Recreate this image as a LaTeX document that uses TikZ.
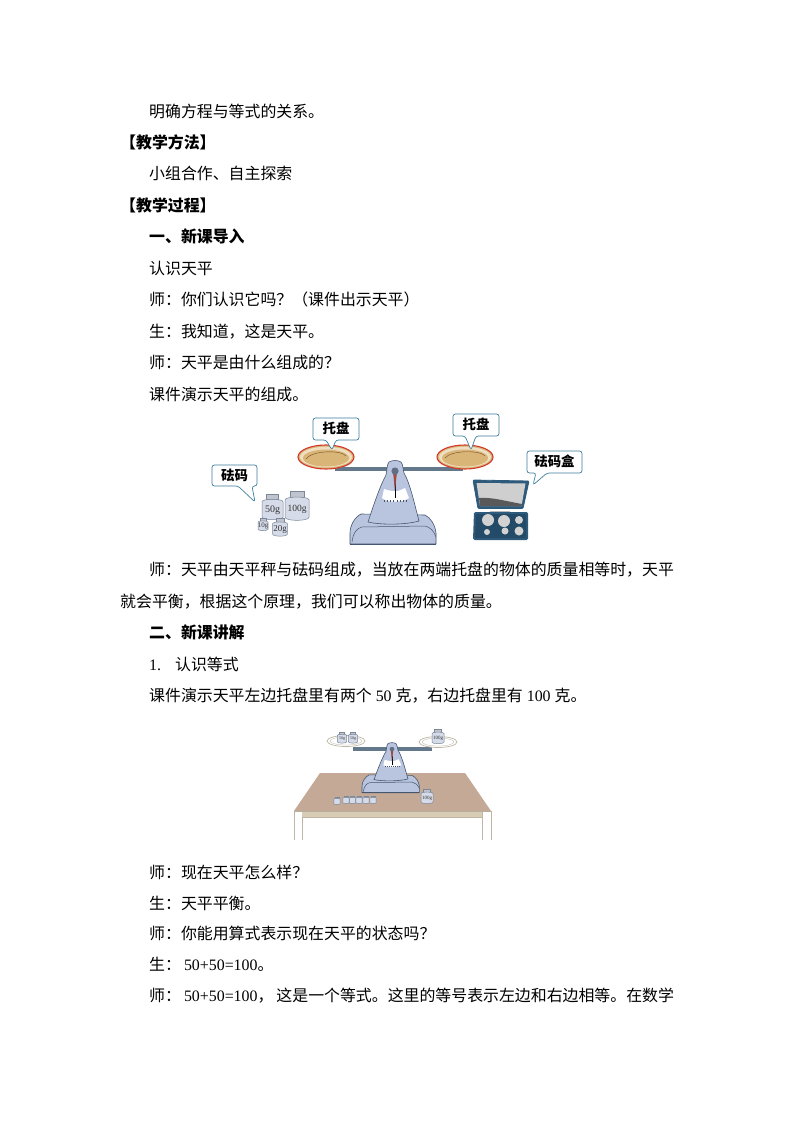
\documentclass[tikz,border=0pt]{standalone}
\usepackage{fontspec}
\setmainfont{Liberation Serif}
\newfontfamily\cjk{Noto Sans CJK SC}
\newcommand{\lat}[1]{{\rmfamily #1}}
\definecolor{bodyblue}{HTML}{B9C5DE}
\definecolor{bodyline}{HTML}{46556E}
\definecolor{beamcol}{HTML}{64788C}
\definecolor{calloutline}{HTML}{3E7F9E}
\definecolor{boxblue}{HTML}{2E5A7C}
\definecolor{boxdark}{HTML}{234A66}
\definecolor{weightfill}{HTML}{D5DBE8}
\definecolor{weightline}{HTML}{7C8798}
\definecolor{tabletop}{HTML}{C4A996}
\definecolor{tableedge}{HTML}{D8CDB4}
\definecolor{plategold}{HTML}{D9B677}
\definecolor{platerim}{HTML}{D2392B}
\definecolor{needle}{HTML}{B0453A}
\tikzset{
  line/.style={anchor=base west,inner sep=0pt,font=\fontsize{15.9pt}{16pt}\cjk},
  head/.style={line,font=\fontsize{15.9pt}{16pt}\cjk\bfseries},
  callout/.style={draw=calloutline,fill=white,line width=.7pt,rounded corners=2.5pt},
  calloutlabel/.style={inner sep=0pt,font=\fontsize{13.4pt}{14pt}\cjk\bfseries},
  wpart/.style={draw=weightline,fill=weightfill,line width=.5pt},
  wdark/.style={draw=weightline,fill=weightfill!75!gray,line width=.5pt},
  sbody/.style={draw=bodyline,fill=bodyblue,line width=.6pt,line join=round},
  plateline/.style={draw=platerim,fill=plategold,line width=1.1pt},
  smallplate/.style={draw=tableedge!70!gray,fill=white,line width=.7pt},
}
% weight: centre x, centre y, half width, label, font size
\newcommand{\wgt}[5]{%
  \begin{scope}[shift={(#1,#2)},x=#3pt,y=-#3pt]
    \draw[wpart] (-.3,-.95) rectangle (.3,-.55);
    \draw[wdark] (-.58,-1.3) rectangle (.58,-.85);
    \draw[wpart] (-1,-.6) -- (-1,.85) .. controls (-1,1.2) and (1,1.2) .. (1,.85) -- (1,-.6)
       .. controls (1,-.9) and (-1,-.9) .. (-1,-.6) -- cycle;
    \node[inner sep=0pt,font=\fontsize{#5pt}{#5pt}\selectfont\rmfamily,text=black!80] at (0,.2) {#4};
  \end{scope}}
% balance body, origin at pivot
\newcommand{\balancebody}[2]{%
  \begin{scope}[shift={(#1)},#2]
    \draw[sbody] (-45,73) -- (-45,62) .. controls (-45,54) and (-40,46) .. (-34,43) -- (30,44)
       .. controls (36,47) and (40,54) .. (41,62) -- (41,73) -- cycle;
    \draw[bodyline,line width=.5pt] (-43,71) .. controls (-42,62) and (-38,57) .. (-33,56) -- (30,55)
       .. controls (35,56) and (39,60) .. (41,66);
    \draw[bodyline,line width=1pt] (-45,73) -- (41,73);
    \draw[sbody] (-27,51) .. controls (-21,33) and (-15,15) .. (-9,4)
       .. controls (-8,-1) and (-8,-7) .. (-6,-9) .. controls (-3,-11) and (3,-11) .. (6,-9)
       .. controls (8,-7) and (8,-1) .. (9,2) .. controls (15,12) and (20,35) .. (24,50)
       .. controls (10,54) and (-14,54) .. (-27,51) -- cycle;
    \fill[white] (-11,18) .. controls (-8,19) and (-5,20) .. (-2,20) -- (3,20)
       .. controls (6,19) and (8,18) .. (10,17) -- (14,27) .. controls (8,31) and (-6,33) .. (-13,27) -- cycle;
    \foreach \t in {-11,-8,-5,-2,2,5,8,11}
      \draw[bodyline,line width=.25pt] (\t,30.5) -- (\t,28.5);
    \draw[black,line width=.4pt] (0,12) -- (0,27);
    \fill[bodyline!50!needle] (-2,0) -- (2,0) -- (0,20) -- cycle;
    \fill[needle] (-1.1,3) -- (1.1,3) -- (0,19) -- cycle;
    \fill[bodyline!85!white] (0,0) circle (3.6);
  \end{scope}}
\begin{document}
\begin{tikzpicture}[x=1pt,y=-1pt]
\useasboundingbox (0,0) rectangle (794,1123);
\fill[white] (0,0) rectangle (794,1123);

% text
\node[line] (t1) at (149,118) {明确方程与等式的关系。};
\node[head] (t2) at (120,149) {【教学方法】};
\node[line] (t3) at (149,180) {小组合作、自主探索};
\node[head] (t4) at (120,212) {【教学过程】};
\node[head] (t5) at (149,243) {一、新课导入};
\node[line] (t6) at (149,274) {认识天平};
\node[line] (t7) at (149,305) {师：你们认识它吗？（课件出示天平）};
\node[line] (t8) at (149,337) {生：我知道，这是天平。};
\node[line] (t9) at (149,368) {师：天平是由什么组成的？};
\node[line] (t10) at (149,400) {课件演示天平的组成。};
\node[line] (t11) at (149,575) {师：天平由天平秤与砝码组成，当放在两端托盘的物体的质量相等时，天平};
\node[line] (t12) at (120,607) {就会平衡，根据这个原理，我们可以称出物体的质量。};
\node[head] (t13) at (149,638) {二、新课讲解};
\node[line] (t14) at (149,670) {\lat{1.\hspace{14pt}}认识等式};
\node[line] (t15) at (149,701) {课件演示天平左边托盘里有两个\lat{ 50 }克，右边托盘里有\lat{ 100 }克。};
\node[line] (t16) at (149,878) {师：现在天平怎么样？};
\node[line] (t17) at (149,909) {生：天平平衡。};
\node[line] (t18) at (149,939) {师：你能用算式表示现在天平的状态吗？};
\node[line] (t19) at (149,970) {生：\hspace{3pt}\lat{50+50=100}。};
\node[line] (t20) at (149,1001) {师：\hspace{3pt}\lat{50+50=100}，\hspace{3pt}这是一个等式。这里的等号表示左边和右边相等。在数学};

% first balance
\fill[beamcol] (335,466.5) rectangle (463,471);
\balancebody{395,471}{}
\draw[fill=beamcol!70!white,draw=none] (300,462) .. controls (310,470) and (340,472) .. (352,463) -- (345,466) -- cycle;
\draw[plateline] (326,457) ellipse (28 and 12);
\draw[fill=white!55!plategold,draw=none] (326,457) ellipse (26 and 10.3);
\fill[plategold] (326,458) ellipse (23 and 8.5);
\draw[brown!60!black,line width=.4pt] (306,459) .. controls (312,450) and (342,450) .. (346,456);
\draw[plateline] (465,457) ellipse (28 and 12);
\draw[fill=white!55!plategold,draw=none] (465,457) ellipse (26 and 10.3);
\fill[plategold] (465,458) ellipse (23 and 8.5);
\draw[brown!60!black,line width=.4pt] (445,458) .. controls (451,450) and (481,450) .. (485,456);

% weights of first balance
\wgt{297}{507}{12}{100g}{9.5}
\wgt{272.5}{508}{10.5}{50g}{10}
\wgt{263}{525}{5}{10g}{7}
\wgt{280}{528}{7.3}{20g}{9}

% weight box
\draw[boxblue,fill=boxblue,line width=.8pt,rounded corners=1pt] (473,480) -- (529,481) -- (523,508.5) -- (478,508.5) -- cycle;
\fill[gray!38] (476.5,483) -- (525.5,483.5) -- (521.5,506) -- (480,506) -- cycle;
\fill[black!65] (479,498) .. controls (492,497) and (505,501) .. (522,504) -- (521.5,506) -- (480,506) -- cycle;
\fill[gray!55] (490,511) rectangle (510,514);
\fill[boxblue,rounded corners=1.5pt] (474,512) -- (528,512) -- (528,540) -- (473,540) -- cycle;
\fill[boxdark,rounded corners=1pt] (476,514) -- (526,514) -- (526,538) -- (475,538) -- cycle;
\fill[gray!35] (488,520) circle (6) (504,521) circle (6) (519,520) circle (4)
  (487,532) circle (3) (505,531) circle (3.5) (519,531) circle (4.5);

% callouts
\draw[callout] (313,418) -- (359,418) -- (359,440) -- (336,440) -- (332,450) -- (326,440) -- (313,440) -- cycle;
\node[calloutlabel] (c1) at (336,428.5) {托盘};
\draw[callout] (453,414) -- (499,414) -- (499,436) -- (476,436) -- (471,450) -- (465,436) -- (453,436) -- cycle;
\node[calloutlabel] (c2) at (476,424.5) {托盘};
\draw[callout] (212,465) -- (257,465) -- (257,486) -- (252,486) -- (255,502) -- (238,486) -- (212,486) -- cycle;
\node[calloutlabel] (c3) at (234.5,475) {砝码};
\draw[callout] (527,451) -- (582,451) -- (582,473) -- (547,473) -- (533,485) -- (536,473) -- (527,473) -- cycle;
\node[calloutlabel] (c4) at (554.5,461.5) {砝码盒};

% second scene: table
\fill[white] (294,811) rectangle (491,840);
\draw[tableedge!70!gray,line width=.6pt] (294,811) -- (294,840) (302,811) -- (302,840) (482,811) -- (482,840) (491,811) -- (491,840);
\fill[tableedge] (302,812) rectangle (482,817);
\draw[tableedge!70!gray,line width=.4pt] (302,817) -- (482,817);
\fill[tabletop] (320,773) -- (465,773) -- (491,811) -- (294,811) -- cycle;
\draw[tableedge!60!gray,line width=.4pt] (294,811) -- (491,811);

% second balance
\fill[beamcol] (353,747) rectangle (432,750.5);
\balancebody{392,749}{xscale=.667,yscale=.6}
\draw[smallplate] (346,741) ellipse (19 and 5.5);
\draw[draw=tableedge!70!gray,line width=.3pt] (346,741) ellipse (16 and 4);
\draw[smallplate] (438,742) ellipse (19 and 5.5);
\draw[draw=tableedge!70!gray,line width=.3pt] (438,742) ellipse (16 and 4);

% weights of second scene
\wgt{342}{738}{4.6}{50g}{4}
\wgt{353}{738}{4.6}{50g}{4}
\wgt{438}{737}{6}{100g}{5}
\wgt{427}{797}{6}{100g}{5}
\wgt{337}{801}{3.2}{}{3}
\wgt{346}{800}{3.2}{}{3}
\wgt{352.5}{800}{3.2}{}{3}
\wgt{359}{800}{3.2}{}{3}
\wgt{366}{800}{3.2}{}{3}
\wgt{373}{800}{3.2}{}{3}
\end{tikzpicture}
\end{document}
